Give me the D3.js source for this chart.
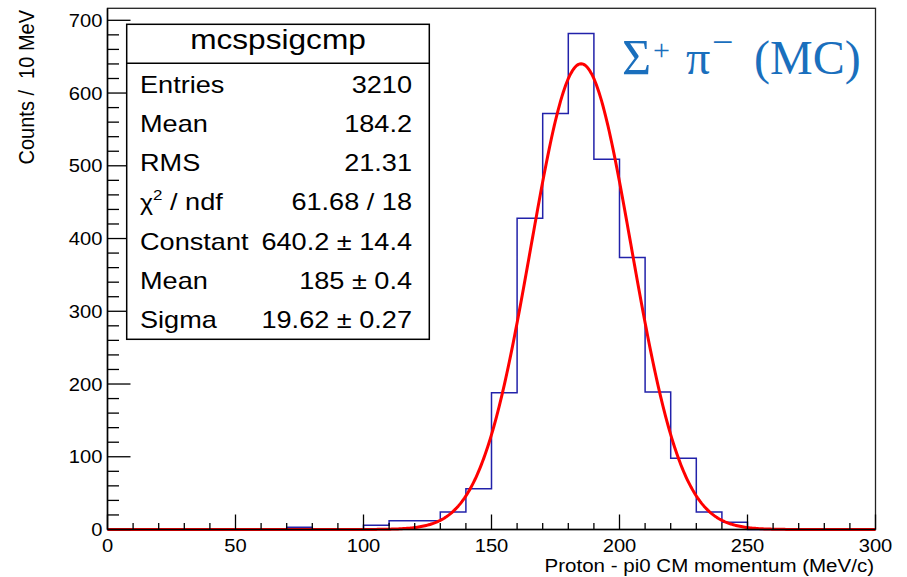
<!DOCTYPE html>
<html>
<head>
<meta charset="utf-8">
<script src="https://cdn.jsdelivr.net/npm/d3@7"></script>
<style>
body { margin: 0; background: #fff; }
svg { display: block; font-family: "Liberation Sans", Arial, sans-serif; }
</style>
</head>
<body>
<div class="chart"></div>
<script>
// histogram: 10 MeV bins from 0 to 300
const binLow = [0,10,20,30,40,50,60,70,80,90,100,110,120,130,140,150,160,170,180,190,200,210,220,230,240,250,260,270,280,290]
const binCounts = [0,0,0,0,0,0,0,3,0,0,6,12,12,24,56,188,428,572,682,509,374,189,98,24,10,0,0,0,0,0]
const binWidth = 10

const xTicks = [0,50,100,150,200,250,300]
const yTicks = [0,100,200,300,400,500,600,700]

const statTitle = "mcspsigcmp"
const statLabels = ["Entries","Mean","RMS","chi2","Constant","Mean","Sigma"]
const statValues = ["3210","184.2","21.31","61.68 / 18","640.2 \u00b1 14.4","185 \u00b1 0.4","19.62 \u00b1 0.27"]

// gaus fit parameters (from the stats box)
const fitConstant = 640.2
const fitMean = 185
const fitSigma = 19.62

let width = 907
let height = 577
let sx = 1.12 // the picture is a bit stretched sideways

let svg = d3.select(".chart").append("svg")
	.attr("width", width)
	.attr("height", height)

let x = d3.scaleLinear()
	.domain([0, 300])
	.range([107.5, 875.5])

let y = d3.scaleLinear()
	.domain([0, 716.5])
	.range([529.5, 8.3])

function stext(px, py, size, anchor, k){
	return svg.append("g")
		.attr("transform", "translate(" + px + "," + py + ") scale(" + (k || sx) + ",1)")
		.append("text")
			.attr("font-size", size)
			.attr("text-anchor", anchor)
			.attr("fill", "#000")
}

// frame
svg.append("rect")
	.attr("x", x(0))
	.attr("y", y(716.5))
	.attr("width", x(300) - x(0))
	.attr("height", y(0) - y(716.5))
	.attr("fill", "none")
	.attr("stroke", "#222")
	.attr("stroke-width", 1.3)

// histogram outline
let histPts = []
binLow.forEach((b, i) => {
	histPts.push([b, binCounts[i]])
	histPts.push([b + binWidth, binCounts[i]])
})
let histLine = d3.line()
	.x(d => x(d[0]))
	.y(d => y(d[1]))

svg.append("path")
	.attr("d", histLine([[0,0]].concat(histPts).concat([[300,0]])))
	.attr("fill", "none")
	.attr("stroke", "#2222aa")
	.attr("stroke-width", 1.5)

// fit curve
let fitPts = d3.range(0, 300.01, 0.5).map(v => [v, fitConstant * Math.exp(-0.5 * Math.pow((v - fitMean) / fitSigma, 2))])
svg.append("path")
	.attr("d", histLine(fitPts))
	.attr("fill", "none")
	.attr("stroke", "#ff0000")
	.attr("stroke-width", 3)
	.attr("stroke-linejoin", "round")

// x axis ticks
svg.append("g")
	.selectAll("line")
	.data(d3.range(0, 301, 10))
	.enter()
	.append("line")
		.attr("x1", d => x(d))
		.attr("x2", d => x(d))
		.attr("y1", y(0))
		.attr("y2", d => y(0) - (d % 50 == 0 ? 15 : 6.5))
		.attr("stroke", "#000")
		.attr("stroke-width", 1.3)

// y axis ticks
svg.append("g")
	.selectAll("line")
	.data(d3.range(0, 716, 20))
	.enter()
	.append("line")
		.attr("x1", x(0))
		.attr("x2", d => x(0) + (d % 100 == 0 ? 23 : 11.5))
		.attr("y1", d => y(d))
		.attr("y2", d => y(d))
		.attr("stroke", "#000")
		.attr("stroke-width", 1.3)

svg.append("line")
	.attr("x1", x(0)).attr("x2", x(300))
	.attr("y1", y(0)).attr("y2", y(0))
	.attr("stroke", "#000").attr("stroke-width", 1.5)
svg.append("line")
	.attr("x1", x(0)).attr("x2", x(0))
	.attr("y1", y(0)).attr("y2", y(716.5))
	.attr("stroke", "#000").attr("stroke-width", 1.5)

xTicks.forEach(t => {
	stext(x(t), 552, 18, "middle").text(t)
})
yTicks.forEach(t => {
	stext(102.5, y(t) + 6.5, 18, "end").text(t)
})

stext(874, 571.5, 19, "end", 1.08).text("Proton - pi0 CM momentum (MeV/c)")

svg.append("g")
	.attr("transform", "translate(34,10) rotate(-90) scale(1," + sx + ")")
	.append("text")
		.attr("font-size", 20)
		.attr("text-anchor", "end")
		.attr("xml:space", "preserve")
		.style("white-space", "pre")
		.text("Counts /  10 MeV")

// stats box
let box = { x0: 126.7, x1: 429.3, y0: 24.3, y1: 339.3, head: 63.3 }
svg.append("rect")
	.attr("x", box.x0)
	.attr("y", box.y0)
	.attr("width", box.x1 - box.x0)
	.attr("height", box.y1 - box.y0)
	.attr("fill", "#fff")
	.attr("stroke", "#000")
	.attr("stroke-width", 1.5)
svg.append("line")
	.attr("x1", box.x0).attr("x2", box.x1)
	.attr("y1", box.head).attr("y2", box.head)
	.attr("stroke", "#000").attr("stroke-width", 1.5)

stext((box.x0 + box.x1) / 2, 48.5, 28, "middle", 1.13).text(statTitle)

statLabels.forEach((lab, i) => {
	let by = 92.5 + i * 39.25
	let t = stext(140, by, 24, "start", 1.13)
	if (lab == "chi2") {
		t.append("tspan").attr("font-size", 22).text("\u03c7")
		t.append("tspan").attr("font-size", 15).attr("dy", -10).text("2")
		t.append("tspan").attr("dy", 10).text(" / ndf")
	} else {
		t.text(lab)
	}
	stext(412, by, 24, "end", 1.13).text(statValues[i])
})

// annotation
let note = svg.append("text")
	.attr("font-family", "'Liberation Serif', 'Times New Roman', serif")
	.attr("fill", "#1a6fbd")
	.attr("font-size", 48)
note.append("tspan").attr("x", 622).attr("y", 73.5).attr("font-size", 50).text("\u03a3")
note.append("tspan").attr("x", 653).attr("y", 60).attr("font-size", 30).text("+")
note.append("tspan").attr("x", 686).attr("y", 73.5).text("\u03c0")
note.append("tspan").attr("x", 712).attr("y", 55).attr("font-size", 38).text("\u2212")
note.append("tspan").attr("x", 754).attr("y", 73.5).text("(MC)")
</script>
</body>
</html>
